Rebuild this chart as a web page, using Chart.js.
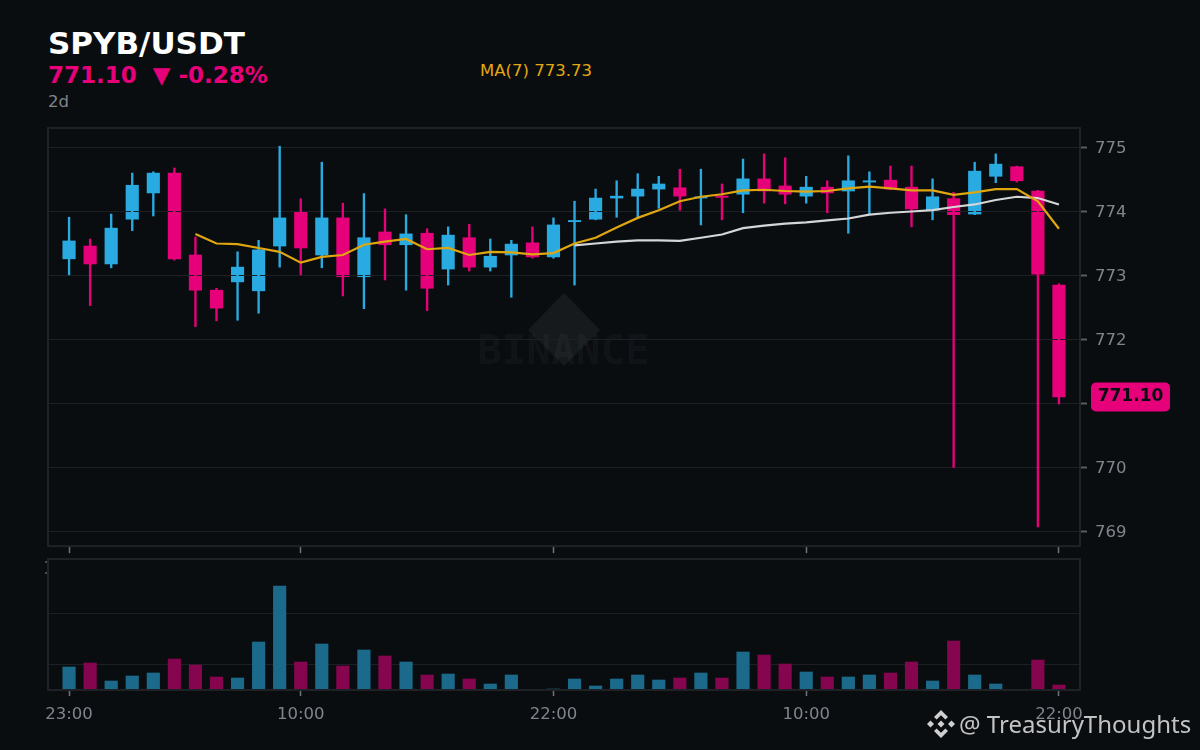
<!DOCTYPE html>
<html><head><meta charset="utf-8">
<script src="https://cdn.jsdelivr.net/npm/chart.js@4"></script>
<style>
html,body{margin:0;padding:0;background:#0a0d10;width:1200px;height:750px;overflow:hidden;font-family:"DejaVu Sans",sans-serif}
.t{position:absolute;white-space:pre;line-height:1}
canvas{position:absolute;left:0}
</style></head><body>
<div class="t" style="left:48px;top:28px;font-weight:700;font-size:31px;color:#fff">SPYB/USDT</div>
<div class="t" style="left:48px;top:64px;font-weight:700;font-size:23px;color:#e6007a">771.10  ▼ -0.28%</div>
<div class="t" style="left:48px;top:94px;font-size:16.5px;color:#7f858c">2d</div>
<div class="t" style="left:480px;top:63px;font-size:16.5px;color:#e3a80f">MA(7) 773.73</div>
<svg style="position:absolute;left:520px;top:285px" width="90" height="90"><polygon points="44,8 80,45 44,81 8,45" fill="rgba(255,255,255,.055)"/></svg>
<div class="t" style="left:477px;top:330px;font-family:'DejaVu Sans Mono',monospace;font-weight:700;font-size:41px;color:rgba(255,255,255,.035)">BINANCE</div>
<canvas id="price" width="1200" height="564" style="top:0"></canvas>
<canvas id="vol" width="1200" height="200" style="top:550px"></canvas>
<div style="position:absolute;left:45px;top:561px;width:2px;height:2px;background:#4a4f55"></div>
<div style="position:absolute;left:45px;top:572px;width:2px;height:2px;background:#4a4f55"></div>
<svg style="position:absolute;left:926px;top:709px" width="30" height="30" viewBox="0 0 30 30" fill="#cfcfcf">
<polygon points="15,1 22,8 19.4,10.6 15,6.2 10.6,10.6 8,8"/>
<polygon points="15,29 22,22 19.4,19.4 15,23.8 10.6,19.4 8,22"/>
<polygon points="15,11.5 18.5,15 15,18.5 11.5,15"/>
<polygon points="4.5,11.5 8,15 4.5,18.5 1,15"/>
<polygon points="25.5,11.5 29,15 25.5,18.5 22,15"/>
</svg>
<div class="t" style="left:959px;top:712px;font-family:'Noto Sans',sans-serif;font-size:24px;color:rgba(215,215,215,.9)">@ TreasuryThoughts</div>
<script>
const tickIndexes=[0,11,23,35,47];
const tickLabels=['23:00','10:00','22:00','10:00','22:00'];
const priceTicks=[769,770,771,772,773,774,775];
const volumeTicks=[25.5,77];
const open=[773.26,773.46,773.18,773.88,774.29,774.60,773.32,772.77,772.90,772.76,773.46,773.99,773.32,773.90,772.98,773.68,773.48,773.66,773.10,773.59,773.13,773.32,773.51,773.29,773.84,773.88,774.21,774.24,774.35,774.37,774.21,774.24,774.27,774.51,774.40,774.24,774.38,774.32,774.46,774.49,774.38,774.02,774.20,773.96,774.55,774.70,774.32,772.85];
const close=[773.54,773.18,773.74,774.41,774.60,773.26,772.77,772.49,773.13,773.40,773.90,773.43,773.90,772.98,773.59,773.48,773.65,772.80,773.63,773.13,773.30,773.49,773.29,773.79,773.86,774.21,774.24,774.35,774.43,774.24,774.23,774.22,774.51,774.32,774.27,774.38,774.29,774.48,774.48,774.35,774.04,774.23,773.95,774.63,774.74,774.48,773.02,771.10];
const high=[773.91,773.57,773.96,774.60,774.62,774.68,773.60,772.80,773.37,773.55,775.02,774.20,774.77,774.13,774.28,774.04,773.95,773.73,773.76,773.80,773.57,773.55,773.76,773.90,774.16,774.35,774.48,774.59,774.55,774.66,774.66,774.43,774.82,774.90,774.84,774.55,774.48,774.87,774.62,774.71,774.71,774.51,774.30,774.77,774.90,774.71,774.33,772.87];
const low=[773.01,772.53,773.12,773.70,773.93,773.24,772.20,772.29,772.30,772.41,773.13,773.01,773.12,772.68,772.48,772.93,772.77,772.45,772.85,773.07,773.07,772.66,773.27,773.27,772.85,773.87,773.91,773.90,774.05,774.02,773.79,773.87,773.98,774.13,774.12,774.13,773.98,773.66,773.96,774.34,773.76,773.87,770.00,773.95,774.45,774.46,769.07,770.99];
const ma7=[null,null,null,null,null,null,773.65,773.50,773.49,773.43,773.37,773.20,773.29,773.32,773.48,773.53,773.57,773.41,773.43,773.32,773.37,773.36,773.33,773.35,773.50,773.59,773.75,773.90,774.02,774.16,774.23,774.27,774.33,774.34,774.32,774.31,774.32,774.36,774.39,774.36,774.33,774.33,774.26,774.30,774.35,774.35,774.16,773.73];
const ma25=[null,null,null,null,null,null,null,null,null,null,null,null,null,null,null,null,null,null,null,null,null,null,null,null,773.47,773.50,773.53,773.55,773.55,773.54,773.59,773.64,773.74,773.78,773.81,773.83,773.86,773.89,773.95,773.98,774.00,774.02,774.07,774.11,774.18,774.23,774.21,774.11];
const volume=[23,27,9,14,17,31,25,13,12,48,104,28,46,24,40,34,28,15,16,11,6,15,0.3,1,11,4,11,15,10,12,17,12,38,35,26,18,13,13,15,17,28,9,49,15,6,0,30,5];
const lastPrice=771.10;

const BLUE='#29abe2',PINK='#e6007a',VBLUE='#1c6a8b',VPINK='#85054f',GRID='#1c2024',EDGE='#1e2226',BG='#0a0d10',TXT='#7f858c';
const isUp=i=>close[i]>=open[i];
const colors=open.map((_,i)=>isUp(i)?BLUE:PINK);
const vColors=open.map((_,i)=>isUp(i)?VBLUE:VPINK);
const xy=a=>a.map((v,i)=>({x:i,y:v}));
const pairs=(a,b)=>a.map((v,i)=>({x:i,y:[v,b[i]]}));

const frame={id:'frame',afterDraw(c){const a=c.chartArea,x=c.ctx;x.save();x.strokeStyle=EDGE;x.lineWidth=2;x.strokeRect(a.left,a.top,a.right-a.left,a.bottom-a.top);x.restore();}};
const gridOverBodies={id:'gridOverBodies',afterDatasetDraw(c,args){if(args.index!==0)return;const y=c.scales.y,a=c.chartArea,x=c.ctx;x.save();x.strokeStyle=GRID;x.lineWidth=1;y.ticks.forEach(t=>{const p=Math.floor(y.getPixelForValue(t.value))+0.5;x.beginPath();x.moveTo(a.left,p);x.lineTo(a.right,p);x.stroke();});x.restore();}};
const priceTag={id:'priceTag',afterDraw(c){const y=c.scales.y.getPixelForValue(lastPrice),x=c.ctx;x.save();x.fillStyle=PINK;x.beginPath();x.roundRect(1091,y-14.5,79,29,5);x.fill();x.fillStyle=BG;x.font='700 17px "DejaVu Sans"';x.textAlign='center';x.textBaseline='middle';x.fillText(lastPrice.toFixed(2),1130.5,y);x.restore();}};

const setTicks=(arr)=>s=>{s.ticks=arr.map(v=>({value:v}));};
const xScale=(h,showLabels,len)=>({type:'linear',offset:false,min:-1,max:48,
  afterBuildTicks:setTicks(tickIndexes),
  afterFit:s=>{s.height=h;},
  grid:{display:true,offset:false,drawOnChartArea:false,drawTicks:true,tickLength:len,tickColor:'#6f757d',tickWidth:1.5,color:'transparent'},
  border:{display:false},
  ticks:{display:showLabels,autoSkip:false,maxRotation:0,minRotation:0,color:TXT,padding:9,font:{family:'"DejaVu Sans"',size:16.5},
    callback:v=>tickLabels[tickIndexes.indexOf(v)]}});

new Chart(document.getElementById('price'),{
  type:'bar',
  data:{datasets:[
    {label:'body',data:pairs(open,close),backgroundColor:colors,barThickness:12.5,grouped:false,borderWidth:0,borderSkipped:false,order:3},
    {label:'wick',data:pairs(low,high),backgroundColor:colors,barThickness:1.7,grouped:false,borderWidth:0,borderSkipped:false,order:2},
    {type:'line',label:'MA(25)',data:xy(ma25),borderColor:'#d4d6d8',borderWidth:2.2,pointRadius:0,tension:0,order:1},
    {type:'line',label:'MA(7)',data:xy(ma7),borderColor:'#dfa60f',borderWidth:2.2,pointRadius:0,tension:0,order:0}
  ]},
  options:{responsive:false,animation:false,devicePixelRatio:1,
    layout:{padding:{left:48,top:128,right:0,bottom:0}},
    plugins:{legend:{display:false},tooltip:{enabled:false}},
    scales:{
      x:xScale(14,false,7),
      y:{position:'right',min:768.77,max:775.305,
        afterBuildTicks:setTicks(priceTicks),
        afterFit:s=>{s.width=120;},
        grid:{color:GRID,lineWidth:1,drawOnChartArea:false,tickColor:'#565b61',tickLength:7,tickWidth:2},
        border:{display:false},
        ticks:{color:TXT,padding:8,labelOffset:1,font:{family:'"DejaVu Sans"',size:16.5},callback:v=>String(v)}}
    }},
  plugins:[gridOverBodies,frame,priceTag]
});

new Chart(document.getElementById('vol'),{
  type:'bar',
  data:{datasets:[{label:'volume',data:xy(volume),backgroundColor:vColors,barThickness:12.5,grouped:false,borderWidth:0,borderSkipped:false}]},
  options:{responsive:false,animation:false,devicePixelRatio:1,
    layout:{padding:{left:48,top:9,right:0,bottom:0}},
    plugins:{legend:{display:false},tooltip:{enabled:false}},
    scales:{
      x:xScale(60,true,6),
      y:{position:'right',min:0,max:131,
        afterBuildTicks:setTicks(volumeTicks),
        afterFit:s=>{s.width=120;},
        grid:{color:GRID,lineWidth:1,drawTicks:false},
        border:{display:false},
        ticks:{display:false}}
    }},
  plugins:[frame]
});
</script>
</body></html>
